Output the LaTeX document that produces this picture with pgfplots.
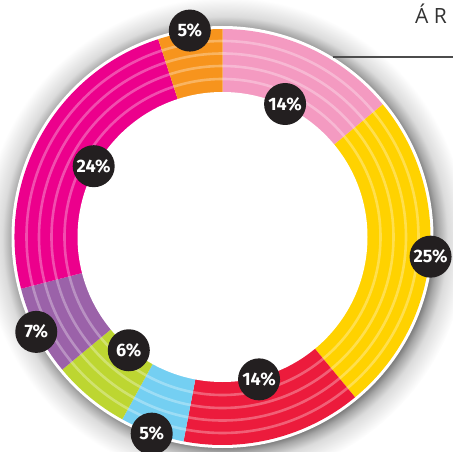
\documentclass[border=0pt]{standalone}
\usepackage{pgfplots}
\usepackage{pgfplotstable}
\pgfplotsset{compat=1.18}
\usepackage{fontspec}
\setmainfont{Fira Sans}
\newfontfamily\titlefont{Open Sans}
\usetikzlibrary{calc}
\definecolor{cPink}{HTML}{F49AC1}
\definecolor{cYellow}{HTML}{FFD200}
\definecolor{cRed}{HTML}{EC1B3C}
\definecolor{cBlue}{HTML}{74CFF2}
\definecolor{cLime}{HTML}{BDD631}
\definecolor{cPurple}{HTML}{9B62A9}
\definecolor{cMagenta}{HTML}{EC008C}
\definecolor{cOrange}{HTML}{F7941D}
\definecolor{cDark}{HTML}{231F20}
\pgfdeclareradialshading{ringshadow}{\pgfpoint{0bp}{0bp}}{color(0bp)=(black!50); color(21.5bp)=(black!50); color(22bp)=(black!35); color(23bp)=(black!14); color(25bp)=(white); color(50bp)=(white)}
\pgfplotstableread{
value color pos
14 cPink 0
25 cYellow 1
14 cRed 0
5 cBlue 1
6 cLime 0
7 cPurple 1
24 cMagenta 0
5 cOrange 1
}\donutdata
\begin{document}
\begin{tikzpicture}
\begin{axis}[name=ax, x=1pt, y=1pt, xmin=0, xmax=453, ymin=0, ymax=451,
  hide axis, clip=true]
% shadow and white border
\shade[shading=ringshadow] (axis cs:225,212) circle[radius=242pt];
\fill[white] (axis cs:222.5,214) circle[radius=211pt];
% wedges
\pgfplotstablegetrowsof{\donutdata}
\pgfmathtruncatemacro\nrows{\pgfplotsretval-1}
\def\angleacc{90}
\pgfplotsforeachungrouped \i in {0,...,\nrows}{
  \pgfplotstablegetelem{\i}{value}\of\donutdata \let\v\pgfplotsretval
  \pgfplotstablegetelem{\i}{color}\of\donutdata \let\c\pgfplotsretval
  \pgfmathsetmacro\aend{\angleacc-3.6*\v}
  \edef\cmd{\noexpand\fill[\c] (axis cs:222.5,214) -- ++(\angleacc:208pt) arc[start angle=\angleacc, end angle=\aend, radius=208pt] -- cycle;}
  \cmd
  \global\let\angleacc\aend
}
% stripes
\draw[white, opacity=0.3, line width=2.6pt] (axis cs:222.5,214) circle[radius=158pt];
\draw[white, opacity=0.3, line width=2.6pt] (axis cs:222.5,214) circle[radius=171pt];
\draw[white, opacity=0.3, line width=2.6pt] (axis cs:222.5,214) circle[radius=183.5pt];
\draw[white, opacity=0.3, line width=2.6pt] (axis cs:222.5,214) circle[radius=196pt];
% inner hole
\fill[white] (axis cs:222.5,214) circle[radius=145pt];
% labels
\def\angleacc{90}
\pgfplotsforeachungrouped \i in {0,...,\nrows}{
  \pgfplotstablegetelem{\i}{value}\of\donutdata \let\v\pgfplotsretval
  \pgfplotstablegetelem{\i}{pos}\of\donutdata \let\p\pgfplotsretval
  \pgfmathsetmacro\amid{\angleacc-1.8*\v}
  \pgfmathsetmacro\aend{\angleacc-3.6*\v}
  \pgfmathsetmacro\lr{\p==1 ? 209 : 147}
  \edef\cmd{\noexpand\node[circle, fill=cDark, minimum size=42pt, inner sep=0pt, text=white, font=\noexpand\fontsize{18}{18}\noexpand\selectfont\noexpand\bfseries] at ($(axis cs:222.5,214)+(\amid:\lr pt)$) {\v\kern-0.5pt\noexpand\%};}
  \cmd
  \global\let\angleacc\aend
}
% header text and line
\node[anchor=base east, text=black!80, font=\titlefont\fontsize{21}{21}\selectfont, inner sep=0pt] at (axis cs:447,427) {Á R};
\draw[black!70, line width=1.5pt] (axis cs:333,394) -- (axis cs:453,394);
\end{axis}
\pgfresetboundingbox
\useasboundingbox (ax.south west) rectangle (ax.north east);
\end{tikzpicture}
\end{document}
